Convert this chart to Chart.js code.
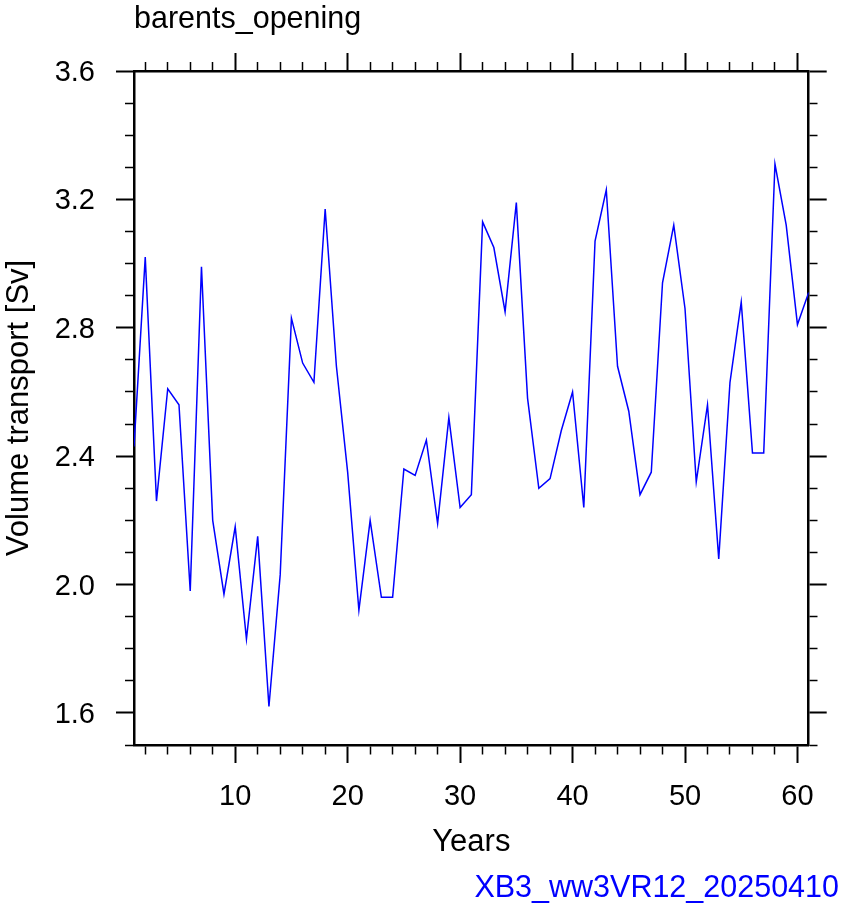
<!DOCTYPE html>
<html>
<head>
<meta charset="utf-8">
<script src="https://cdn.jsdelivr.net/npm/chart.js@4.4.1/dist/chart.umd.min.js"></script>
<style>
    html, body { margin: 0; padding: 0; background: #fff; }
    #wrap { width: 848px; height: 912px; }
</style>
</head>
<body>
<div id="wrap"><canvas id="chart" width="848" height="912"></canvas></div>
<script>
// anos e transporte de volume (Sv)
const years = [
    1, 2, 3, 4, 5, 6, 7, 8, 9, 10,
    11, 12, 13, 14, 15, 16, 17, 18, 19, 20,
    21, 22, 23, 24, 25, 26, 27, 28, 29, 30,
    31, 32, 33, 34, 35, 36, 37, 38, 39, 40,
    41, 42, 43, 44, 45, 46, 47, 48, 49, 50,
    51, 52, 53, 54, 55, 56, 57, 58, 59, 60,
    61
];
const transport = [
    2.43, 3.02, 2.26, 2.61, 2.56, 1.98, 2.99, 2.20, 1.97, 2.18,
    1.83, 2.15, 1.62, 2.03, 2.83, 2.69, 2.63, 3.17, 2.68, 2.35,
    1.92, 2.20, 1.96, 1.96, 2.36, 2.34, 2.45, 2.19, 2.52, 2.24,
    2.28, 3.13, 3.05, 2.85, 3.19, 2.58, 2.30, 2.33, 2.48, 2.60,
    2.24, 3.07, 3.23, 2.68, 2.54, 2.28, 2.35, 2.94, 3.12, 2.86,
    2.32, 2.56, 2.08, 2.63, 2.88, 2.41, 2.41, 3.31, 3.12, 2.81,
    2.91
];

// ticks (menores a cada 2 anos / 0.1 Sv)
const xTicks = [2, 4, 6, 8, 10, 12, 14, 16, 18, 20, 22, 24, 26, 28, 30,
    32, 34, 36, 38, 40, 42, 44, 46, 48, 50, 52, 54, 56, 58, 60];
const xLabels = [10, 20, 30, 40, 50, 60];
const yTicks = [1.5, 1.6, 1.7, 1.8, 1.9, 2.0, 2.1, 2.2, 2.3, 2.4, 2.5, 2.6,
    2.7, 2.8, 2.9, 3.0, 3.1, 3.2, 3.3, 3.4, 3.5, 3.6];
const yLabels = ['1.6', '2.0', '2.4', '2.8', '3.2', '3.6'];

const titleText = 'barents_opening';
const xTitle = 'Years';
const yTitle = 'Volume transport [Sv]';
const footText = 'XB3_ww3VR12_20250410';

Chart.defaults.font.family = '"Liberation Sans", Arial, Helvetica, sans-serif';
Chart.defaults.color = '#000';

const isMajorX = v => xLabels.includes(v);
const isMajorY = v => yLabels.includes(v.toFixed(1));

function tickGrid(isMajor, outerFirst) {
    return {
        drawOnChartArea: false,
        drawTicks: true,
        tickLength: 18,
        tickColor: '#000',
        tickWidth: ctx => (ctx.tick && isMajor(ctx.tick.value)) ? 2 : 1.5,
        tickBorderDash: ctx => {
            if (ctx.tick && isMajor(ctx.tick.value)) return [];
            return outerFirst ? [0, 9, 12, 100] : [8, 100];
        }
    };
}

const border = { display: true, color: '#000', width: 2.5 };

const setXTicks = scale => { scale.ticks = xTicks.map(v => ({ value: v })); };
const setYTicks = scale => { scale.ticks = yTicks.map(v => ({ value: v })); };

new Chart(document.getElementById('chart').getContext('2d'), {
    type: 'line',
    data: {
        datasets: [{
            data: years.map((y, i) => ({ x: y, y: transport[i] })),
            borderColor: '#0000ff',
            borderWidth: 1.5,
            pointRadius: 0,
            tension: 0,
            fill: false
        }]
    },
    options: {
        responsive: false,
        animation: false,
        layout: { padding: { left: 0, right: 9, top: 0, bottom: 5.3 } },
        scales: {
            x: {
                type: 'linear',
                position: 'bottom',
                min: 1,
                max: 61,
                afterBuildTicks: setXTicks,
                afterFit: scale => { scale.height = 119.9; },
                border: border,
                grid: tickGrid(isMajorX, false),
                ticks: {
                    autoSkip: false,
                    maxRotation: 0,
                    minRotation: 0,
                    padding: 16.9,
                    font: { size: 29 },
                    color: '#000',
                    callback: v => isMajorX(v) ? String(v) : ''
                },
                title: {
                    display: true,
                    text: xTitle,
                    color: '#000',
                    font: { size: 31 },
                    padding: { top: 0, bottom: 4 }
                }
            },
            x2: {
                type: 'linear',
                position: 'top',
                min: 1,
                max: 61,
                afterBuildTicks: setXTicks,
                afterFit: scale => { scale.height = 18; },
                border: border,
                grid: tickGrid(isMajorX, true),
                ticks: { display: false, autoSkip: false }
            },
            y: {
                type: 'linear',
                position: 'left',
                min: 1.5,
                max: 3.6,
                afterBuildTicks: setYTicks,
                afterFit: scale => { scale.width = 134; },
                border: border,
                grid: tickGrid(isMajorY, true),
                ticks: {
                    autoSkip: false,
                    padding: 21,
                    labelOffset: 2,
                    font: { size: 29 },
                    color: '#000',
                    callback: v => isMajorY(v) ? v.toFixed(1) : ''
                },
                title: {
                    display: true,
                    text: yTitle,
                    color: '#000',
                    font: { size: 31 },
                    padding: { top: 0.9, bottom: 0 }
                }
            },
            y2: {
                type: 'linear',
                position: 'right',
                min: 1.5,
                max: 3.6,
                afterBuildTicks: setYTicks,
                afterFit: scale => { scale.width = 30.3; },
                border: border,
                grid: tickGrid(isMajorY, false),
                ticks: { display: false, autoSkip: false }
            }
        },
        plugins: {
            legend: { display: false },
            tooltip: { enabled: false },
            title: {
                display: true,
                text: titleText,
                align: 'start',
                fullSize: false,
                color: '#000',
                font: { size: 30.5, weight: 'normal' },
                padding: { top: 1.1, bottom: 15.3 }
            },
            subtitle: {
                display: true,
                position: 'bottom',
                text: footText,
                align: 'end',
                color: '#0000ff',
                font: { size: 30.5, weight: 'normal' },
                padding: { top: 5.2, bottom: 0 }
            }
        }
    }
});
</script>
</body>
</html>
